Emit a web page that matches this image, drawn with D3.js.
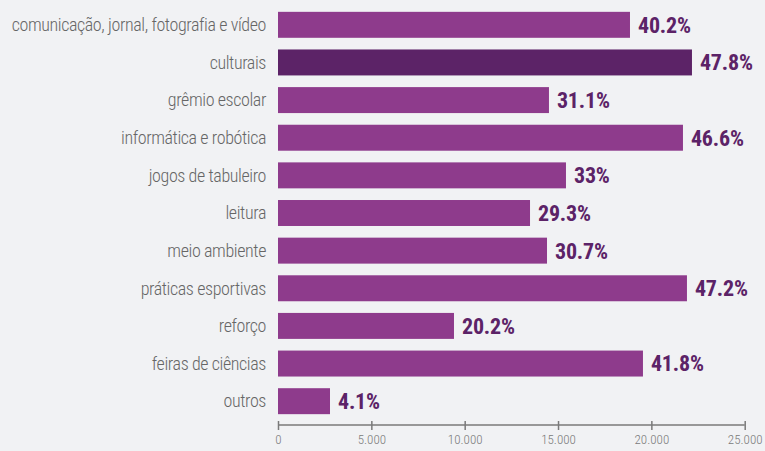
<!DOCTYPE html>
<html>
<head>
<meta charset="utf-8">
<script src="https://cdn.jsdelivr.net/npm/d3@7"></script>
<style>
  body { margin: 0; background: #f1f2f4; }
  svg { display: block; }
</style>
</head>
<body>
<script>
// data
var categories = ["comunicação, jornal, fotografia e vídeo", "culturais", "grêmio escolar",
  "informática e robótica", "jogos de tabuleiro", "leitura", "meio ambiente",
  "práticas esportivas", "reforço", "feiras de ciências", "outros"];
var counts = [18855, 22175, 14515, 21693, 15426, 13500, 14410, 21907, 9427, 19550, 2785];
var percents = ["40.2%", "47.8%", "31.1%", "46.6%", "33%", "29.3%", "30.7%", "47.2%", "20.2%", "41.8%", "4.1%"];
var highlight = "culturais";
var tickValues = [0, 5000, 10000, 15000, 20000, 25000];

var width = 765, height = 451;
var condensed = "'Liberation Sans Narrow', 'Roboto Condensed', sans-serif";

var svg = d3.select("body").append("svg")
    .attr("width", width)
    .attr("height", height);

var x = d3.scaleLinear()
    .domain([0, 25000])
    .range([278, 744.7]);

var y = d3.scaleBand()
    .domain(categories)
    .range([6, 420])
    .paddingInner(0.31)
    .paddingOuter(0.155);

var data = categories.map(function(c, i) {
  return {name: c, value: counts[i], pct: percents[i]};
});

// bars
svg.append("g").selectAll("rect")
  .data(data)
  .enter().append("rect")
    .attr("x", x(0))
    .attr("y", function(d) { return y(d.name); })
    .attr("width", function(d) { return x(d.value) - x(0); })
    .attr("height", y.bandwidth())
    .attr("fill", function(d) { return d.name == highlight ? "#5c2367" : "#8e3b8c"; });

// category labels
svg.append("g").selectAll("text")
  .data(data)
  .enter().append("text")
    .attr("x", 266)
    .attr("y", function(d) { return y(d.name) + y.bandwidth() / 2; })
    .attr("dy", "0.35em")
    .attr("text-anchor", "end")
    .style("font-family", condensed)
    .style("font-weight", "300")
    .style("font-size", "18px")
    .style("letter-spacing", "-0.4px")
    .style("fill", "#666")
    .text(function(d) { return d.name; });

// value labels
svg.append("g").selectAll("text")
  .data(data)
  .enter().append("text")
    .attr("x", function(d) { return x(d.value) + 8; })
    .attr("y", function(d) { return y(d.name) + y.bandwidth() / 2; })
    .attr("dy", "0.36em")
    .style("font-family", condensed)
    .style("font-weight", "bold")
    .style("font-size", "22px")
    .style("letter-spacing", "-0.2px")
    .style("fill", "#5c2367")
    .text(function(d) { return d.pct; });

// x axis
var axis = svg.append("g")
    .attr("transform", "translate(0,425)")
    .call(d3.axisBottom(x)
      .tickValues(tickValues)
      .tickSize(5)
      .tickFormat(function(d) { return d3.format(",")(d).replace(",", "."); }));

axis.select(".domain").attr("stroke", "#7a7a7a").attr("stroke-width", 1.5)
  .attr("d", "M" + x(0) + ",0H" + x(25000));
axis.selectAll(".tick line").attr("stroke", "#7a7a7a").attr("stroke-width", 1.5)
  .attr("y1", -4).attr("y2", 5);
axis.selectAll(".tick text")
    .attr("y", 10)
    .attr("dy", "0.71em")
    .style("font-family", condensed)
    .style("font-weight", "300")
    .style("font-size", "13px")
    .style("fill", "#7a7a7a");
</script>
</body>
</html>
